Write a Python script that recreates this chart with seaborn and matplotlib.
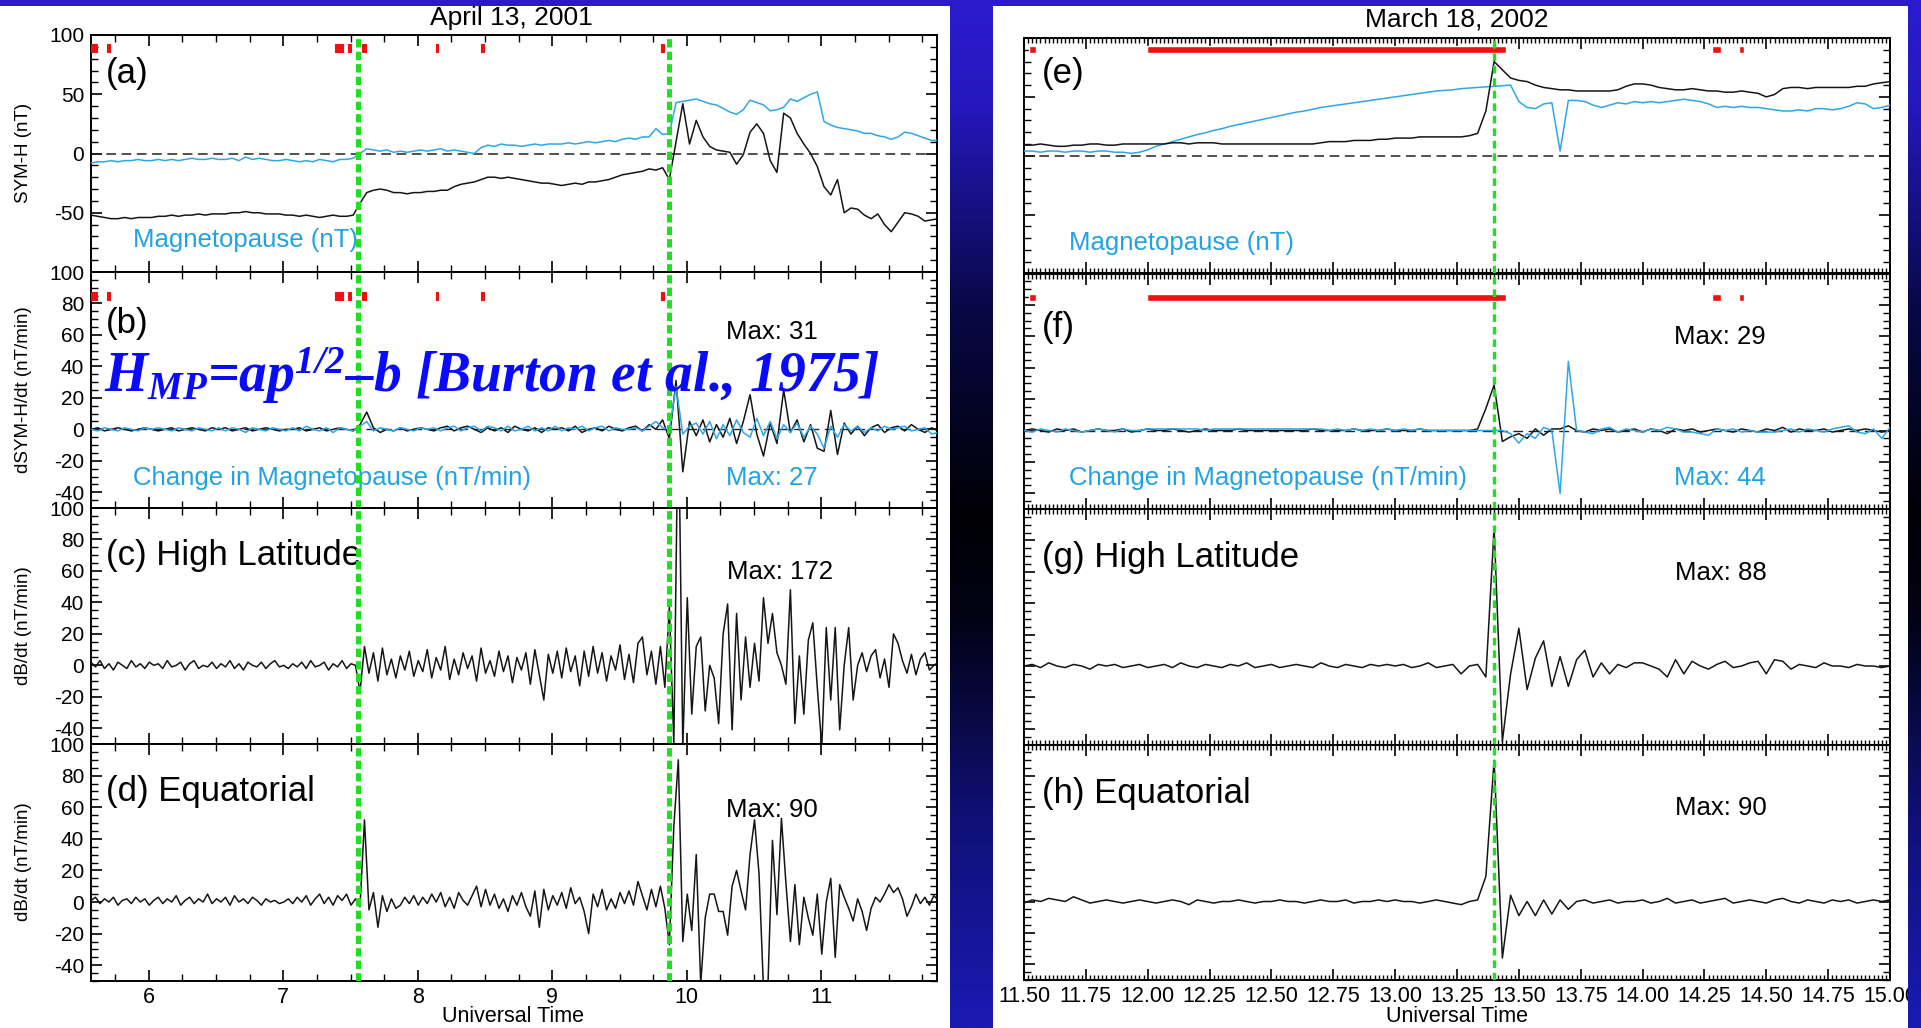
import numpy as np
import matplotlib
matplotlib.use("Agg")
import matplotlib.pyplot as plt
import seaborn as sns
from matplotlib.patches import Rectangle
from matplotlib.ticker import MultipleLocator, FixedLocator, FormatStrFormatter

# ---------------------------------------------------------------- April 13, 2001
apr_t3 = 5.57 + 0.05 * np.arange(127)        # 3-minute samples (UT hours)
apr_t2 = 5.57 + np.arange(190) / 30.0        # 2-minute samples (UT hours)

apr_symh = [
    -52, -53, -54, -55, -55, -54, -55, -54, -54, -54,
    -53, -53, -52, -53, -52, -52, -51, -52, -51, -51,
    -51, -50, -50, -49, -50, -50, -51, -51, -51, -52,
    -52, -53, -52, -53, -54, -53, -52, -53, -53, -52,
    -42, -33, -31, -30, -31, -33, -33, -34, -33, -33,
    -32, -32, -31, -31, -28, -26, -25, -24, -22, -20,
    -20, -21, -20, -21, -22, -23, -24, -25, -25, -26,
    -27, -26, -25, -26, -24, -24, -23, -22, -20, -18,
    -17, -16, -15, -13, -14, -12, -22, 10, 42, 8,
    28, 14, 6, 3, 2, 1, -9, -1, 18, 25,
    17, -6, -16, 34, 30, 17, 8, 0, -11, -28,
    -35, -22, -50, -46, -47, -52, -55, -51, -60, -66,
    -58, -50, -51, -53, -57, -56, -55]
apr_mp = [
    -8, -7, -7, -6, -7, -6, -6, -5, -6, -6,
    -5, -6, -5, -6, -5, -4, -5, -5, -4, -5,
    -5, -4, -6, -3, -5, -4, -5, -6, -6, -5,
    -6, -7, -6, -7, -5, -6, -7, -5, -5, -4,
    0, 4, 3, 2, 3, 1, 2, 1, 2, 3,
    2, 3, 4, 2, 3, 2, 1, 0, 5, 7,
    6, 8, 7, 7, 6, 7, 8, 7, 8, 8,
    8, 9, 8, 9, 10, 9, 10, 11, 10, 12,
    13, 12, 14, 14, 21, 16, 17, 43, 44, 45,
    46, 44, 42, 41, 38, 35, 33, 37, 45, 43,
    41, 36, 37, 39, 46, 44, 47, 50, 52, 27,
    24, 22, 21, 20, 19, 17, 17, 15, 14, 12,
    14, 18, 17, 15, 13, 11, 11]
apr_dsymh = [
    0, 1, -1, 0, 1, 0, -1, 0, 1, 0,
    -1, 0, 1, -1, 0, 1, 0, -1, 1, 0,
    1, -1, 0, 1, -1, 0, 1, 0, -1, 0,
    0, 1, -1, 0, 1, -1, 0, 1, 0, -1,
    3, 11, 1, -2, 0, -1, 1, -1, 0, 1,
    0, -1, 1, 2, -1, 1, 2, 0, -2, 1,
    -1, 1, -2, 2, 0, -1, 1, -2, 1, 0,
    1, -1, 2, -2, 0, 1, -1, 2, 0, -1,
    1, 2, -1, 3, 0, 6, -6, 31, -27, 5,
    -4, 6, -8, 3, -5, 7, -9, 5, 22, -3,
    -17, 4, -9, 25, -2, 6, -8, 3, -12, -14,
    12, -16, 4, -3, 2, -4, 1, 3, -2, 1,
    2, -1, 3, 0, -2, 1, -1]
apr_dmp = [
    0, -1, 1, 0, -1, 1, 0, -1, 1, 0,
    1, 0, -1, 1, 0, -1, 1, 0, -1, 1,
    -1, 1, 0, -2, 1, 0, -1, 1, 0, -1,
    1, -1, 2, 0, -1, 1, -2, 1, 0, -1,
    2, 5, -1, 1, 0, -1, 1, 0, -1, 1,
    0, 1, -1, 1, 2, -1, 1, 2, -1, 2,
    1, -1, 2, -1, 0, 2, -1, 1, -1, 2,
    -1, 1, 0, 2, -1, 1, 2, -1, 1, 0,
    0, 1, -1, 2, 5, 1, 0, 27, -3, 2,
    4, -3, 5, -6, 3, -4, 6, -2, -5, 7,
    -4, 5, -6, 3, -2, 4, -5, 2, -3, -12,
    2, -5, 3, -1, 2, -2, 1, -1, 2, 0,
    1, 2, -1, 0, 1, -3, -2]
apr_high = [
    2, -1, 3, -2, 1, -3, 2, 0, -2, 3, -1, 1, -2, 2, 0,
    1, -2, 3, -1, 0, 2, -3, 1, 3, -2, 0, -1, 2, -2, 1,
    -1, 3, -2, 1, -3, 2, 0, -1, 2, -2, 1, 3, -1, 0, -2,
    1, -1, 2, -2, 3, -1, 0, 2, -3, 1, -1, 3, -2, 1, 0,
    -17, 12, -5, 8, -10, 11, -6, 4, -8, 6, -3, 9, -7, 3, -4,
    10, -8, 5, -3, 12, -9, 4, -6, 8, -2, 6, -10, 11, -5, 3,
    -7, 9, -4, 6, -11, 5, -3, 8, -12, 10, -6, -22, 7, -5, 9,
    -8, 11, -4, 6, -13, 9, -7, 12, -5, 8, -10, 6, -3, 13, -9,
    7, -11, 14, 18, -6, 9, -12, 12, -14, 37, -50, 172, -52, 43, -31,
    12, 18, -29, 0, -8, -37, 20, 39, -41, 33, -22, 18, -14, 14, -10,
    43, 14, 33, 8, 0, -12, 48, -37, 6, -31, 16, 27, -14, -52, 24,
    -22, 24, -41, 0, 24, -22, 0, 8, -4, 6, 10, -8, 4, -14, 20,
    14, 3, -5, 7, -6, 4, 8, -3, 0, 2]
apr_eq = [
    1, 3, -1, 2, 0, 3, -2, 1, 2, -1, 3, 0, 2, -2, 1,
    3, -1, 2, 0, 4, -2, 1, 3, -1, 2, 0, 5, -1, 2, 0,
    3, -2, 4, 0, 2, -1, 3, 1, -2, 2, 0, 1, -1, 0, 2,
    -1, 3, 0, 4, -2, 2, 5, -1, 3, -2, 4, 1, 5, -2, 2,
    -3, 52, -5, 6, -16, 4, -6, 2, -4, -2, 3, -1, 4, -2, 3,
    -1, 5, 0, 6, -3, 3, -4, 6, 1, -2, 4, 10, -3, 8, -2,
    5, -4, 2, -6, 4, -2, 6, -3, -9, 7, -16, 8, -5, 4, -2,
    6, -4, 9, -1, 3, -6, -20, 5, -3, 8, -5, 2, -4, 6, -1,
    7, -2, 13, 4, -5, 8, -3, 10, -4, -27, 48, 90, -25, 5, -18,
    30, -52, -10, 5, 5, -6, -6, -21, 10, 20, 7, -5, 30, 52, 18,
    -55, -52, 39, -8, 53, 12, -25, 11, -27, 3, -10, -21, 5, -33, 0,
    15, -35, 11, 3, -4, -12, 2, -6, -18, -4, 3, 0, 5, 11, 6,
    9, 2, -9, -3, 5, -1, 3, -2, 4, 1]
apr_events = [7.555, 9.866]
apr_flags = [(5.566, 5.611), (5.688, 5.710), (7.387, 7.442), (7.480, 7.506),
             (7.587, 7.613), (8.134, 8.152), (8.466, 8.489), (9.807, 9.833)]

# ---------------------------------------------------------------- March 18, 2002
mar_t = 11.5 + np.arange(106) / 30.0         # 2-minute samples (UT hours)

mar_symh = [
    9, 9, 10, 9, 8, 8, 9, 9, 10, 10, 9, 9, 10, 10, 10,
    10, 10, 10, 11, 11, 10, 11, 11, 11, 10, 10, 10, 10, 10, 10,
    10, 10, 10, 10, 10, 10, 11, 12, 12, 12, 13, 13, 13, 14, 14,
    15, 15, 15, 16, 16, 16, 16, 16, 16, 17, 19, 38, 80, 73, 66,
    64, 63, 60, 58, 57, 56, 56, 55, 55, 55, 55, 55, 56, 59, 61,
    61, 60, 58, 57, 56, 56, 57, 56, 55, 55, 54, 54, 55, 54, 53,
    50, 52, 57, 58, 58, 57, 58, 58, 58, 58, 58, 59, 59, 61, 62,
    63]
mar_mp = [
    4, 4, 3, 4, 4, 3, 4, 4, 3, 4, 4, 3, 3, 2, 3,
    5, 8, 10, 12, 14, 16, 18, 19.5, 21.5, 23, 25, 26.5, 28, 29.5, 31,
    32.5, 34, 35.5, 37, 38, 39.5, 41, 42, 43, 44, 45, 46, 47, 48, 49,
    50, 51, 52, 53, 54, 55, 55.5, 56, 57, 57.5, 58, 58.5, 59, 59.5, 60,
    46, 41, 40, 44, 45, 4, 47, 47, 46, 43, 41, 43, 45, 44, 46,
    45, 46, 45, 46, 47, 48, 47, 46, 44, 41, 42, 41, 42, 41, 41,
    40, 39, 38, 38, 39, 38, 40, 40, 39, 40, 42, 45, 44, 40, 41,
    43]
mar_dsymh = [
    0, 1, 0, -1, 1, 0, 1, -1, 0, 1, 0, 0, 1, -1, 0,
    1, 0, 0, 1, 0, -1, 0, 1, 0, 0, 0, 1, 0, 0, 0,
    0, 0, 0, 0, 0, 1, 0, 0, 0, 0, 1, 0, 0, 0, 1,
    0, 0, 0, 1, 0, 0, 0, 0, 0, 0, 1, 14, 29, -7, -4,
    -2, -5, 1, -3, 1, 1, 3, 0, -1, 1, 0, 1, -1, 0, 1,
    -1, 1, 0, -2, 1, 0, 1, -1, 0, 1, 0, -1, 1, 0, -1,
    1, 0, 2, -1, 1, 0, 0, 1, -1, 0, 1, 0, 1, 0, -1,
    0]
mar_dmp = [
    0, -1, 1, 0, -1, 1, 0, -1, 0, 1, 0, -1, 1, 0, 0,
    1, 1, 1, 1, 1, 1, 1, 0, 1, 1, 1, 1, 1, 1, 1,
    1, 1, 1, 1, 1, 1, 1, 0, 1, 0, 1, 0, 1, 0, 1,
    0, 1, 0, 1, 0, 0, 0, 0, 0, 0, 0, 0, 0, 0, -2,
    -8, -2, -5, 2, 0, -40, 44, 0, -1, -2, 1, 2, -1, 1, 0,
    -1, 1, 0, 2, 1, -1, -1, -2, -3, 1, 0, 1, -1, 0, -1,
    -1, -1, 0, 1, -1, 1, 0, -1, 1, 2, 3, -1, -2, 1, -5,
    2]
mar_high = [
    0, 1, -1, 2, 0, -1, 1, 0, -2, 1, 0, 1, -1, 0, 1,
    -1, 0, 1, -1, 2, 0, -1, 1, 0, -1, 1, 0, 2, -1, 0,
    1, -1, 0, 1, 0, -1, 2, 0, -1, 1, 0, -1, 1, 0, 1,
    0, 1, -1, 0, 2, -1, 0, 1, -5, 0, 1, -7, 88, -48, -5,
    24, -15, 5, 16, -13, 6, -13, 4, 10, -7, 2, -5, 1, -1, 2,
    2, 0, -2, -7, 4, -5, 3, 0, -2, 1, 3, -1, 0, 2, 3,
    -5, 4, 3, -2, 1, 0, -1, 2, 0, 0, -1, 1, 0, 0, -1,
    0]
mar_eq = [
    -1, 1, 0, 2, 1, 0, 3, 1, -1, 0, 1, 0, -1, 0, 1,
    0, -1, 0, 1, 0, -2, 1, 0, -1, 0, 0, 1, 0, -1, 0,
    0, 1, 0, 0, -1, 0, 1, 0, 0, 1, -1, 0, 0, 1, 0,
    1, 0, 0, -1, 0, 1, 0, -1, -2, 0, 1, 16, 90, -36, 4,
    -9, 0, -9, 1, -8, 1, -5, 0, 1, -1, 0, 1, -1, 0, 0,
    1, -1, 0, 2, -1, 0, 1, -1, 0, 1, 2, -1, 0, 1, 0,
    -1, 1, 2, 0, -1, 1, 0, -1, 1, 0, 1, -1, 0, 1, 0,
    1]
mar_events = [13.40]
mar_flags = [(11.519, 11.550), (11.996, 13.450), (14.280, 14.317), (14.390, 14.410)]

# ---------------------------------------------------------------- style
W, H = 1921, 1028
sns.set_theme(style="ticks")
plt.rcParams["font.family"] = ["Liberation Sans", "DejaVu Sans"]
plt.rcParams["axes.unicode_minus"] = False
plt.rcParams["mathtext.fontset"] = "custom"
plt.rcParams["mathtext.it"] = "Liberation Serif:bold:italic"
plt.rcParams["mathtext.rm"] = "Liberation Serif:bold:italic"
plt.rcParams["mathtext.bf"] = "Liberation Serif:bold:italic"
plt.rcParams["lines.scale_dashes"] = False

BLACK = "#151515"
BLUE = "#2ea6e8"
TXTBLUE = "#22a2e4"
GREEN = "#1ee01e"
RED = "#f01010"

fig = plt.figure(figsize=(W / 100, H / 100), dpi=100)


def px_box(x0, y0, x1, y1):
    """Pixel box (y measured from the top) -> figure fraction rect."""
    return [x0 / W, 1 - y1 / H, (x1 - x0) / W, (y1 - y0) / H]


# slide background: blue - black - blue vertical gradient
bg = fig.add_axes([0, 0, 1, 1], zorder=-10)
bg.set_axis_off()
g_pos = [0.0, 0.10, 0.30, 0.50, 0.60, 0.80, 1.0]
g_rgb = np.array([[42, 28, 205], [36, 24, 190], [8, 8, 70], [0, 0, 5],
                  [2, 2, 20], [16, 16, 120], [26, 26, 180]]) / 255.0
yy = np.linspace(0, 1, 512)
grad = np.stack([np.interp(yy, g_pos, g_rgb[:, i]) for i in range(3)], axis=1)
bg.imshow(grad[:, None, :], aspect="auto", extent=[0, 1, 0, 1])

white_boxes = []
for box in [(0, 6, 950, H), (993, 6, 1908, H)]:
    l, b, w, h = px_box(*box)
    r = Rectangle((l, b), w, h, transform=fig.transFigure, facecolor="white",
                  edgecolor="none", zorder=-5)
    fig.patches.append(r)
    white_boxes.append(r)

left_y = [35, 272, 508, 744, 981]
right_y = [38, 273.5, 509, 744.5, 980]
axL = [fig.add_axes(px_box(91, left_y[i], 937, left_y[i + 1])) for i in range(4)]
axR = [fig.add_axes(px_box(1024, right_y[i], 1890, right_y[i + 1])) for i in range(4)]


def trace(ax, t, v, color, lw=1.1, z=3):
    sns.lineplot(x=np.asarray(t, float), y=np.asarray(v, float), ax=ax, color=color,
                 linewidth=lw, errorbar=None, zorder=z)


def frame(ax, xlim, xmaj, xmin, xfmt, ylim, ymaj, ymin, show_x, show_y, xminlen):
    ax.set_facecolor("white")
    ax.set_xlim(*xlim)
    ax.set_ylim(*ylim)
    ax.xaxis.set_major_locator(MultipleLocator(xmaj))
    ax.xaxis.set_minor_locator(MultipleLocator(xmin))
    ax.xaxis.set_major_formatter(FormatStrFormatter(xfmt))
    ax.yaxis.set_major_locator(ymaj)
    ax.yaxis.set_minor_locator(MultipleLocator(ymin))
    ax.tick_params(which="both", direction="in", top=True, right=True,
                   bottom=True, left=True, colors="black")
    ax.tick_params(which="major", length=8, width=1.2)
    ax.tick_params(which="minor", length=5, width=1.0)
    ax.tick_params(axis="x", which="minor", length=xminlen)
    ax.tick_params(axis="x", labelbottom=show_x, labelsize=15.5, pad=4)
    ax.tick_params(axis="y", labelleft=show_y, labelsize=15, pad=5)
    for s in ax.spines.values():
        s.set_color("black")
        s.set_linewidth(1.4)
    ax.set_xlabel("")
    ax.set_ylabel("")


def ptext(ax, x, y, s, **kw):
    kw.setdefault("ha", "left")
    kw.setdefault("va", "center")
    kw.setdefault("zorder", 5)
    return ax.text(x / W, 1 - y / H, s, transform=fig.transFigure, **kw)


# ---------------------------------------------------------------- left column
a, b, c, d = axL
trace(a, apr_t3, apr_mp, BLUE)
trace(a, apr_t3, apr_symh, BLACK)
a.axhline(0, color="#222222", lw=1.1, dashes=(7, 4), zorder=2)
a.broken_barh([(s, e - s) for s, e in apr_flags], (85.5, 6.5), facecolors=RED,
              edgecolors=RED, linewidth=0.8, zorder=4)

b.axhline(0, color="#222222", lw=1.0, dashes=(7, 4), zorder=2)
trace(b, apr_t3, apr_dsymh, BLACK)
trace(b, apr_t3, apr_dmp, BLUE)
b.broken_barh([(s, e - s) for s, e in apr_flags], (82.3, 4.8), facecolors=RED,
              edgecolors=RED, linewidth=0.8, zorder=4)

trace(c, apr_t2, apr_high, BLACK)
trace(d, apr_t2, apr_eq, BLACK)

for i, ax in enumerate(axL):
    if i == 0:
        ylim, ymaj, ymin = (-100, 100), FixedLocator([-50, 0, 50, 100]), 10
    else:
        ylim, ymaj, ymin = (-50, 100), MultipleLocator(20), 5
    frame(ax, (5.57, 11.86), 1, 0.25, "%d", ylim, ymaj, ymin, i == 3, True, 5)
    for t in apr_events:
        ax.axvline(t, color=GREEN, lw=3.6, dashes=(6, 3), zorder=6)

# ---------------------------------------------------------------- right column
e, f, g, h = axR
trace(e, mar_t, mar_mp, BLUE)
trace(e, mar_t, mar_symh, BLACK)
e.axhline(0, color="#222222", lw=1.1, dashes=(7, 4), zorder=2)
e.broken_barh([(s, q - s) for s, q in mar_flags], (87.5, 5.7), facecolors=RED, zorder=4)

f.axhline(0, color="#222222", lw=1.0, dashes=(7, 4), zorder=2)
trace(f, mar_t, mar_dsymh, BLACK)
trace(f, mar_t, mar_dmp, BLUE)
f.broken_barh([(s, q - s) for s, q in mar_flags], (82.7, 4.2), facecolors=RED, zorder=4)

trace(g, mar_t, mar_high, BLACK)
trace(h, mar_t, mar_eq, BLACK)

for i, ax in enumerate(axR):
    if i == 0:
        ylim, ymaj, ymin = (-100, 100), FixedLocator([-50, 0, 50, 100]), 10
    else:
        ylim, ymaj, ymin = (-50, 100), MultipleLocator(20), 5
    frame(ax, (11.5, 15.0), 0.25, 1 / 60, "%.2f", ylim, ymaj, ymin, i == 3, False, 3.5)
    for t in mar_events:
        ax.axvline(t, color=GREEN, lw=2.4, dashes=(5.5, 3.5), zorder=6)

for lab in h.get_xticklabels():
    lab.set_clip_on(True)
    lab.set_clip_path(white_boxes[1])

# ---------------------------------------------------------------- annotations
PANEL = 25
SUB = 18.5
ptext(a, 511, 18, "April 13, 2001", fontsize=19, ha="center", color="black")
ptext(e, 1457, 20, "March 18, 2002", fontsize=19, ha="center", color="black")

ptext(a, 106, 73, "(a)", fontsize=PANEL, color="black")
ptext(a, 133, 240, "Magnetopause (nT)", fontsize=SUB, color=TXTBLUE)
ptext(b, 106, 323, "(b)", fontsize=PANEL, color="black")
ptext(b, 726, 332, f"Max: {np.max(apr_dsymh):.0f}", fontsize=SUB, color="black")
ptext(b, 133, 478, "Change in Magnetopause (nT/min)", fontsize=SUB, color=TXTBLUE)
ptext(b, 726, 478, f"Max: {np.max(apr_dmp):.0f}", fontsize=SUB, color=TXTBLUE)
ptext(c, 106, 555, "(c) High Latitude", fontsize=PANEL, color="black")
ptext(c, 727, 572, f"Max: {np.max(apr_high):.0f}", fontsize=SUB, color="black")
ptext(d, 106, 792, "(d) Equatorial", fontsize=PANEL, color="black")
ptext(d, 726, 810, f"Max: {np.max(apr_eq):.0f}", fontsize=SUB, color="black")

ptext(e, 1042, 73, "(e)", fontsize=PANEL, color="black")
ptext(e, 1069, 243, "Magnetopause (nT)", fontsize=SUB, color=TXTBLUE)
ptext(f, 1042, 328, "(f)", fontsize=PANEL, color="black")
ptext(f, 1674, 337, f"Max: {np.max(mar_dsymh):.0f}", fontsize=SUB, color="black")
ptext(f, 1069, 478, "Change in Magnetopause (nT/min)", fontsize=SUB, color=TXTBLUE)
ptext(f, 1674, 478, f"Max: {np.max(mar_dmp):.0f}", fontsize=SUB, color=TXTBLUE)
ptext(g, 1042, 557, "(g) High Latitude", fontsize=PANEL, color="black")
ptext(g, 1675, 573, f"Max: {np.max(mar_high):.0f}", fontsize=SUB, color="black")
ptext(h, 1042, 793, "(h) Equatorial", fontsize=PANEL, color="black")
ptext(h, 1675, 808, f"Max: {np.max(mar_eq):.0f}", fontsize=SUB, color="black")

for yc, lab in zip([153, 390, 626, 862],
                   ["SYM-H (nT)", "dSYM-H/dt (nT/min)", "dB/dt (nT/min)", "dB/dt (nT/min)"]):
    fig.text(24 / W, 1 - yc / H, lab, rotation=90, ha="center", va="center",
             fontsize=13.5, color="black")

fig.text(513 / W, 1 - 1016 / H, "Universal Time", ha="center", va="center",
         fontsize=15.5, color="black")
fig.text(1457 / W, 1 - 1016 / H, "Universal Time", ha="center", va="center",
         fontsize=15.5, color="black")

fig.text(104 / W, 1 - 392 / H, r"$H_{MP}$=ap$^{1/2}$–b [Burton et al., 1975]",
         fontsize=40, color="#0a0aff", family=["Liberation Serif", "DejaVu Serif"],
         weight="bold", style="italic", ha="left", va="baseline", zorder=20)

fig.savefig("out.png", dpi=100)
